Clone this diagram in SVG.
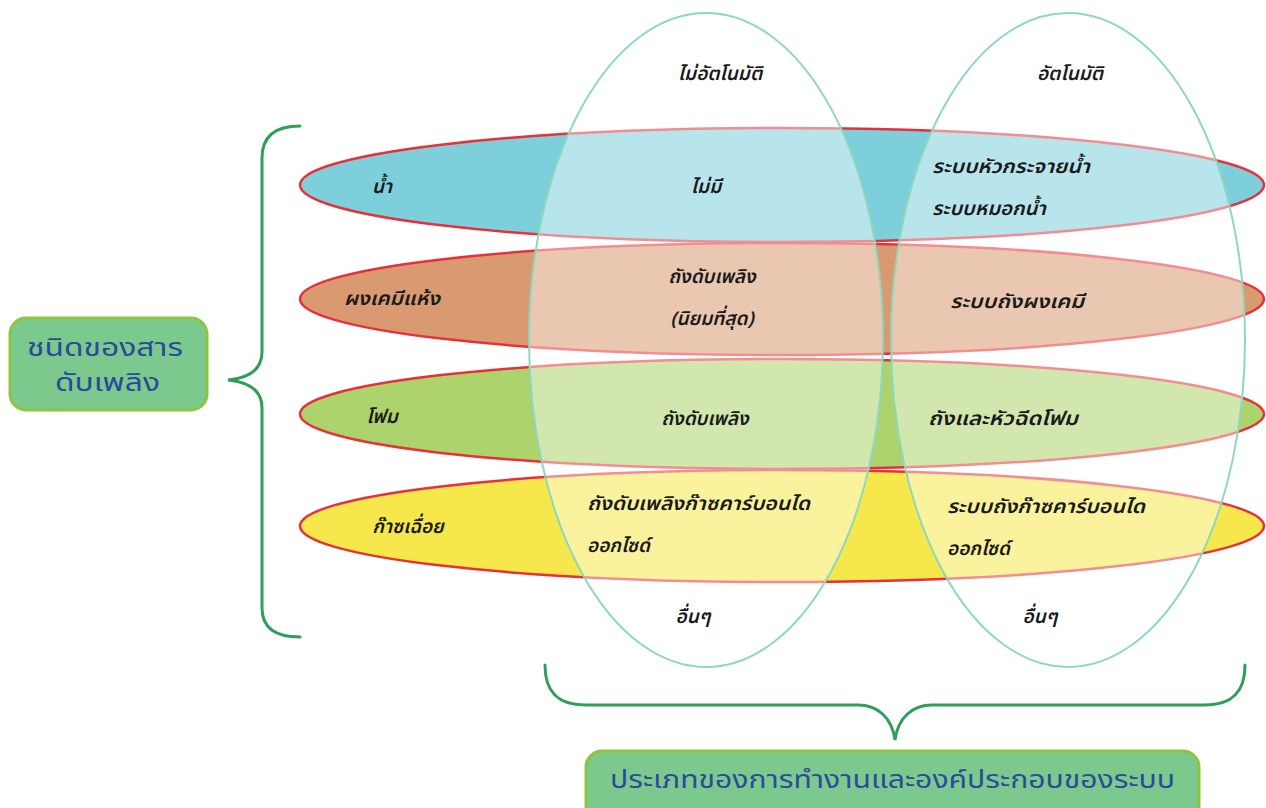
<svg xmlns="http://www.w3.org/2000/svg" width="1266" height="808" viewBox="0 0 1266 808">
<style>
.t{font-family:"Noto Sans Thai","Noto Sans","Liberation Sans",sans-serif;font-size:19px;font-weight:600;fill:#1a1a1a;font-style:italic}
.b{font-family:"Noto Sans Thai","Noto Sans","Liberation Sans",sans-serif;font-size:25px;font-weight:400;fill:#2b4a9c}
.h{stroke:#e8303a;stroke-width:2.5}
.v{fill:#ffffff;fill-opacity:0.45;stroke:#8ed8bd;stroke-width:2}
.brace{fill:none;stroke:#2f9e5a;stroke-width:3;stroke-linecap:round}
.box{fill:#7cc98e;stroke:#8cc63f;stroke-width:3}
</style>
<rect width="1266" height="808" fill="#ffffff"/>
<g id="rows">
<ellipse id="row-water" class="h" cx="782" cy="185" rx="482" ry="57" fill="#7ecfdc"/>
<ellipse id="row-dry" class="h" cx="782" cy="299" rx="482" ry="56" fill="#d99a72"/>
<ellipse id="row-foam" class="h" cx="782" cy="414" rx="482" ry="55" fill="#acd36c"/>
<ellipse id="row-gas" class="h" cx="782" cy="526" rx="482" ry="56" fill="#f6e84c"/>
</g>
<g id="columns">
<ellipse id="col-manual" class="v" cx="706" cy="340" rx="177" ry="327"/>
<ellipse id="col-auto" class="v" cx="1068" cy="340" rx="177" ry="327"/>
</g>
<g id="connectors">
<path class="brace" d="M300,126 C278,126 262,134 262,158 L262,352 C262,370 248,378 228,380 C248,382 262,390 262,408 L262,608 C262,630 278,637 300,637"/>
<path class="brace" d="M545,665 C545,690 556,705 585,705 L858,705 C878,705 892,718 895,740 C898,718 912,705 932,705 L1205,705 C1234,705 1245,690 1245,665"/>
</g>
<g id="box-type">
<rect class="box" x="10" y="318" width="197" height="92" rx="16"/>
<text class="b" x="27" y="356" textLength="156" lengthAdjust="spacingAndGlyphs">ชนิดของสาร</text>
<text class="b" x="55" y="391" textLength="105" lengthAdjust="spacingAndGlyphs">ดับเพลิง</text>
</g>
<g id="box-kind">
<rect class="box" x="586" y="751" width="613" height="70" rx="16"/>
<text class="b" x="610" y="788" textLength="565" lengthAdjust="spacingAndGlyphs">ประเภทของการทำงานและองค์ประกอบของระบบ</text>
</g>
<g id="labels">
<text class="t" x="720" y="80" text-anchor="middle">ไม่อัตโนมัติ</text>
<text class="t" x="1070" y="80" text-anchor="middle">อัตโนมัติ</text>
<text class="t" x="382" y="193" text-anchor="middle">น้ำ</text>
<text class="t" x="706" y="193" text-anchor="middle">ไม่มี</text>
<text class="t" x="932" y="173" textLength="158" lengthAdjust="spacingAndGlyphs">ระบบหัวกระจายน้ำ</text>
<text class="t" x="932" y="215" textLength="114" lengthAdjust="spacingAndGlyphs">ระบบหมอกน้ำ</text>
<text class="t" x="344" y="305" textLength="96" lengthAdjust="spacingAndGlyphs">ผงเคมีแห้ง</text>
<text class="t" x="712" y="283" text-anchor="middle">ถังดับเพลิง</text>
<text class="t" x="712" y="325" text-anchor="middle">(นิยมที่สุด)</text>
<text class="t" x="950" y="308" textLength="134" lengthAdjust="spacingAndGlyphs">ระบบถังผงเคมี</text>
<text class="t" x="382" y="423" text-anchor="middle">โฟม</text>
<text class="t" x="705" y="425" text-anchor="middle">ถังดับเพลิง</text>
<text class="t" x="928" y="425" textLength="150" lengthAdjust="spacingAndGlyphs">ถังและหัวฉีดโฟม</text>
<text class="t" x="408" y="533" text-anchor="middle">ก๊าซเฉื่อย</text>
<text class="t" x="587" y="510" textLength="223" lengthAdjust="spacingAndGlyphs">ถังดับเพลิงก๊าซคาร์บอนได</text>
<text class="t" x="587" y="552">ออกไซด์</text>
<text class="t" x="947" y="513" textLength="198" lengthAdjust="spacingAndGlyphs">ระบบถังก๊าซคาร์บอนได</text>
<text class="t" x="947" y="555">ออกไซด์</text>
<text class="t" x="693" y="623" text-anchor="middle">อื่นๆ</text>
<text class="t" x="1040" y="623" text-anchor="middle">อื่นๆ</text>
</g>
</svg>
